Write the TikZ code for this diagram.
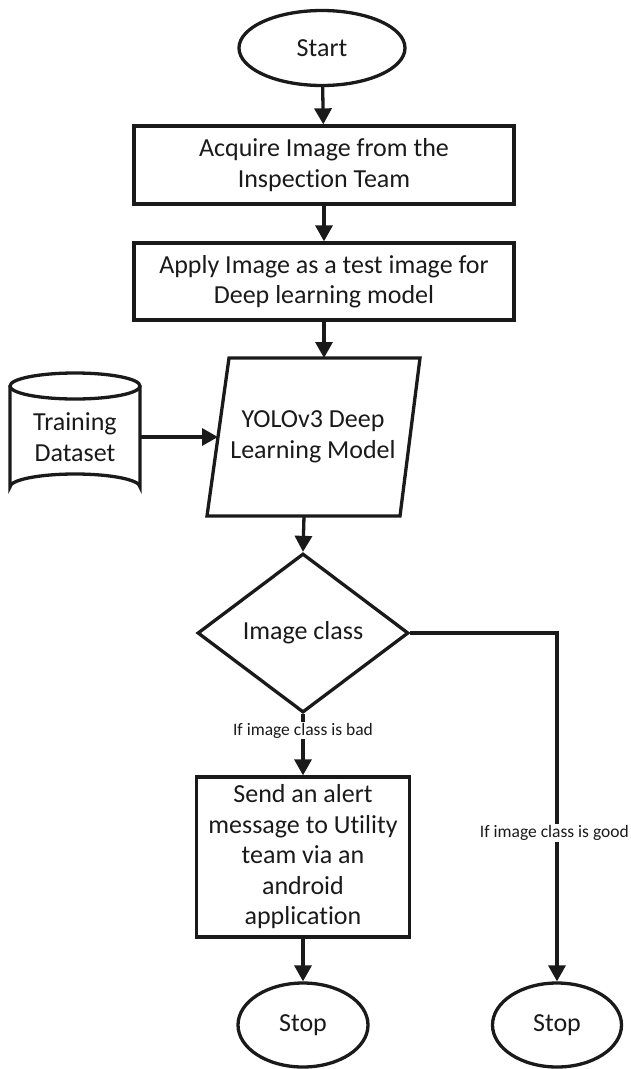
\documentclass[tikz,border=0pt]{standalone}
\usepackage{fontspec}
\setmainfont{Carlito}[Ligatures={NoCommon,NoContextual}]
\usetikzlibrary{shapes.geometric,arrows.meta}
\definecolor{ink}{HTML}{1A1A1A}
\tikzset{
  lw/.style={line width=3.3pt, draw=ink},
  txt/.style={font=\fontsize{26}{30.5}\selectfont, text=ink, align=center},
  term/.style={ellipse, lw, txt, inner sep=0pt},
  proc/.style={rectangle, lw, txt, inner sep=0pt},
  arr/.style={lw, -{Triangle[length=16pt,width=17pt]}},
  lbl/.style={fill=white, font=\fontsize{17.5}{20}\selectfont, text=ink, inner sep=1pt},
}
\begin{document}
\begin{tikzpicture}[x=1pt,y=-1pt]
\useasboundingbox (0,0) rectangle (631,1069);
% nodes
\node[term, minimum width=166pt, minimum height=75pt] (start) at (322,48) {Start};
\node[proc, minimum width=380pt, minimum height=78pt] (acq) at (324,165) {Acquire Image from the\\Inspection Team};
\node[proc, minimum width=380pt, minimum height=77pt] (apply) at (324,281.5) {Apply Image as a test image for\\Deep learning model};
% parallelogram
\coordinate (ptl) at (229,358);
\coordinate (ptr) at (420,358);
\coordinate (pbr) at (400,516);
\coordinate (pbl) at (207,516);
\draw[lw, line join=miter] (ptl) -- (ptr) -- (pbr) -- (pbl) -- cycle;
\node[txt] (yolo) at (313,437) {YOLOv3 Deep\\Learning Model};
\coordinate (ptop) at (324,358);
\coordinate (pbot) at (304,516);
\coordinate (pleft) at (218,437);
% cylinder
\draw[lw] (10,386) -- (10,487) arc[start angle=180, end angle=360, x radius=65, y radius=13] -- (140,386);
\draw[lw] (75,386) ellipse[x radius=65, y radius=13];
\node[txt] (train) at (75,437) {Training\\Dataset};
\coordinate (cright) at (140,437);
% diamond
\node[diamond, lw, txt, minimum width=211pt, minimum height=159pt, inner sep=0pt] (dec) at (303,633) {Image class};
\node[proc, minimum width=213pt, minimum height=160pt] (alert) at (303,857) {Send an alert\\message to Utility\\team via an\\android\\application};
\node[term, minimum width=130pt, minimum height=84pt] (stop1) at (303,1025) {Stop};
\node[term, minimum width=129pt, minimum height=84pt] (stop2) at (557,1025) {Stop};
\coordinate (corner) at (557,633);
% connectors
\draw[arr] (start) -- (acq);
\draw[arr] (acq) -- (apply);
\draw[arr] (apply.south) -- (ptop);
\draw[arr] (cright) -- (pleft);
\draw[arr] (pbot) -- (dec.north);
\draw[arr] (dec.south) -- (alert.north) node[lbl, pos=0.27] {If image class is bad};
\draw[arr] (alert) -- (stop1);
\draw[arr, line join=miter] (dec.east) -- (corner) -- (stop2.north);
\node[lbl, anchor=east] (goodlbl) at (630,833) {If image class is good};
\end{tikzpicture}
\end{document}
